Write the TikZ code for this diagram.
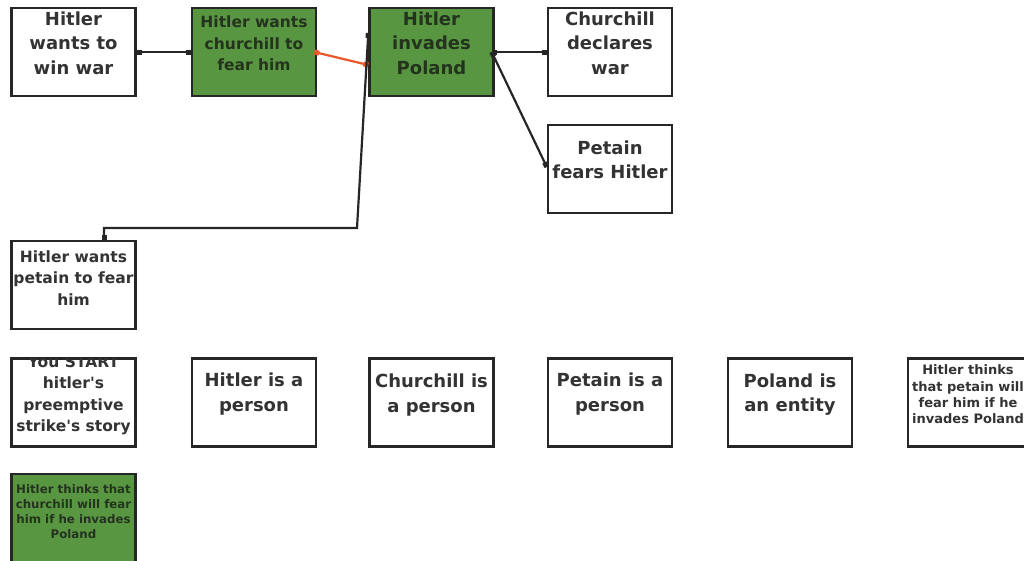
\documentclass[tikz,border=0pt]{standalone}
\usepackage{fontspec}
\setmainfont{DejaVu Sans}
\usetikzlibrary{arrows.meta}
\definecolor{ink}{HTML}{262626}
\definecolor{txt}{HTML}{333333}
\definecolor{leaf}{RGB}{88,150,66}
\definecolor{leaftxt}{HTML}{24331E}
\definecolor{link}{RGB}{232,88,40}
\tikzset{
  box/.style={draw=ink, line width=2.4pt, fill=white, minimum width=124pt,
    minimum height=88pt, inner sep=0pt},
  goal/.style={box, fill=leaf},
  lbl/.style={text=txt, align=center, inner sep=0pt},
  glbl/.style={lbl, text=leaftxt},
  big/.style={font=\fontsize{18}{24.5}\selectfont\bfseries},
  mid/.style={font=\fontsize{15.5}{21.5}\selectfont\bfseries},
  small/.style={font=\fontsize{13}{16.3}\selectfont\bfseries},
  tiny/.style={font=\fontsize{11.8}{15}\selectfont\bfseries},
  sq/.tip={Square[length=5pt,width=5pt]},
  wire/.style={draw=ink, line width=2.2pt, sq-sq},
  hot/.style={wire, draw=link},
}
\begin{document}
\begin{tikzpicture}[x=1pt,y=1pt]
\useasboundingbox (0,0) rectangle (1024,-560);

% top row of story elements
\node[box]  (b1) at (73.5,-52)  {};
\node[goal] (b2) at (254,-52)   {};
\node[goal] (b3) at (431.5,-52) {};
\node[box]  (b4) at (610,-52)   {};
\node[box]  (b5) at (610,-169)  {};
\node[box]  (b6) at (73.5,-285) {};

% row of facts
\node[box] (r1) at (73.5,-402.5) {};
\node[box] (r2) at (254,-402.5)  {};
\node[box] (r3) at (431.5,-402.5){};
\node[box] (r4) at (610,-402.5)  {};
\node[box] (r5) at (790,-402.5)  {};
\node[box] (r6) at (970,-402.5)  {};
\node[goal] (g1) at (73.5,-518)  {};

% connectors
\coordinate (bend) at (357,-228);
\draw[wire] (b1.east) -- (b2.west);
\draw[hot]  ([xshift=-3pt]b2.east) -- ([yshift=-13pt]b3.west);
\draw[wire] ([xshift=-3pt]b3.east) -- (b4.west);
\draw[wire] ([xshift=-3pt]b3.east) -- ([yshift=2pt]b5.west);
\draw[wire] ([xshift=30.5pt]b6.north) |- (bend) -- ([yshift=19pt]b3.west);

% labels
\node[lbl,big]  (t1) at (73.5,-43)  {Hitler\\wants to\\win war};
\node[glbl,mid] (t2) at (254,-43.5) {Hitler wants\\churchill to\\fear him};
\node[glbl,big] (t3) at (431.5,-43) {Hitler\\invades\\Poland};
\node[lbl,big]  (t4) at (610,-43)   {Churchill\\declares\\war};
\node[lbl,big]  (t5) at (610,-160)  {Petain\\fears Hitler};
\node[lbl,mid]  (t6) at (73.5,-278) {Hitler wants\\petain to fear\\him};
\begin{scope}
  \clip ([shift={(1.2pt,-1.2pt)}]r1.north west) rectangle ([shift={(-1.2pt,1.2pt)}]r1.south east);
  \node[lbl,mid] (u1) at (73.5,-395.5) {You START\\hitler\textquotesingle s\\preemptive\\strike\textquotesingle s story};
\end{scope}
\node[lbl,big]   (u2) at (254,-394)   {Hitler is a\\person};
\node[lbl,big]   (u3) at (431.5,-395) {Churchill is\\a person};
\node[lbl,big]   (u4) at (610,-394)   {Petain is a\\person};
\node[lbl,big]   (u5) at (790,-394.5) {Poland is\\an entity};
\node[lbl,small] (u6) at (968,-394.5) {Hitler thinks\\that petain will\\fear him if he\\invades Poland};
\node[glbl,tiny] (h1) at (73.5,-512)  {Hitler thinks that\\churchill will fear\\him if he invades\\Poland};
\end{tikzpicture}
\end{document}
